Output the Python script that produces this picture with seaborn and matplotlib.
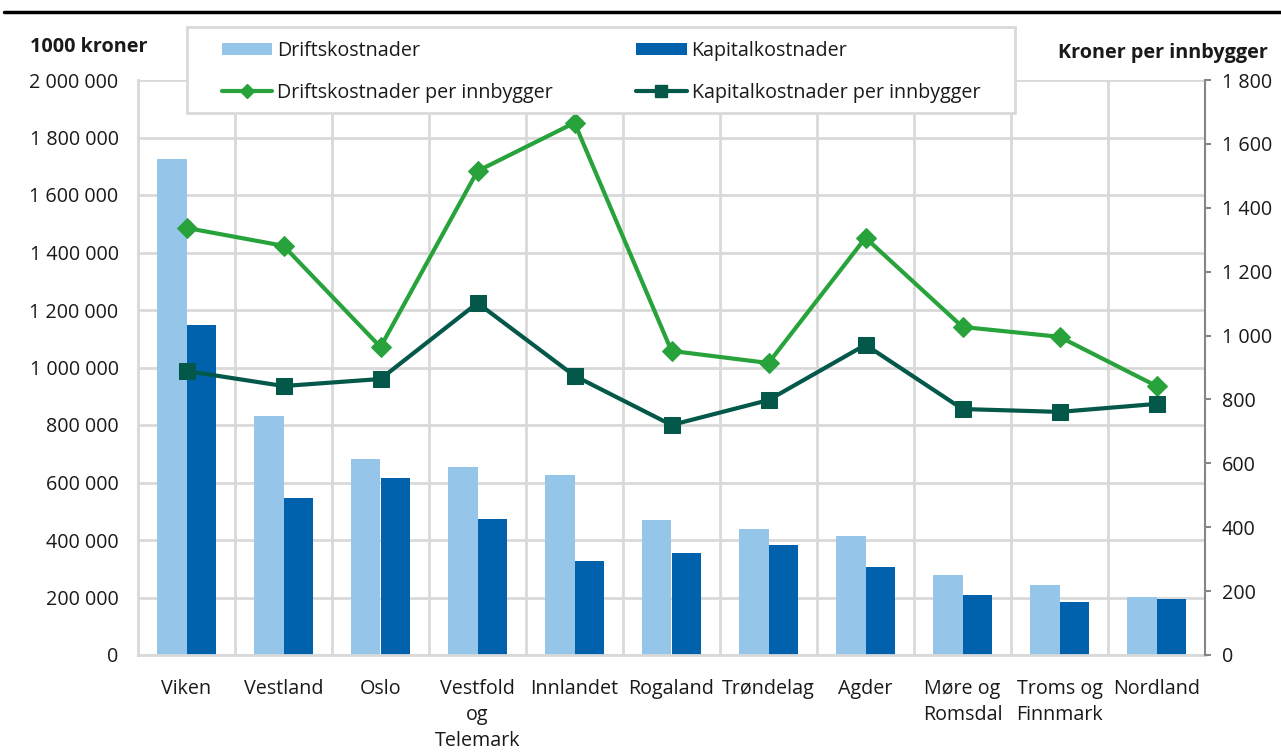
import numpy as np
import pandas as pd
import seaborn as sns
import matplotlib
matplotlib.use("Agg")
import matplotlib.pyplot as plt
from matplotlib.ticker import FuncFormatter, MultipleLocator, FixedLocator
from matplotlib.lines import Line2D
from matplotlib.patches import Patch, Rectangle

# --- data -------------------------------------------------------------
regions = ["Viken", "Vestland", "Oslo", "Vestfold\nog\nTelemark", "Innlandet",
           "Rogaland", "Trøndelag", "Agder", "Møre og\nRomsdal",
           "Troms og\nFinnmark", "Nordland"]
driftskostnader = [1725000, 831000, 682000, 654000, 626000, 470000,
                   438000, 414000, 277000, 242000, 202000]
kapitalkostnader = [1148000, 546000, 616000, 473000, 327000, 355000,
                    383000, 307000, 207000, 184000, 194000]
drift_per_innb = [1337, 1281, 964, 1515, 1666, 952, 914, 1306, 1027, 996, 842]
kapital_per_innb = [889, 842, 864, 1102, 874, 720, 798, 971, 770, 761, 786]

series_names = ["Driftskostnader", "Kapitalkostnader"]
line_names = ["Driftskostnader per innbygger", "Kapitalkostnader per innbygger"]

# --- styling ----------------------------------------------------------
LIGHT_BLUE = "#95c6ea"
DARK_BLUE = "#0062ad"
GREEN = "#28a33c"
DARK_GREEN = "#03584a"
GRID = "#d9d9d9"
TEXT = "#1a1a1a"
FS = 14.2

sns.set_theme(style="white")
plt.rcParams["font.family"] = ["Open Sans", "DejaVu Sans"]
plt.rcParams["font.size"] = FS
plt.rcParams["text.color"] = TEXT

W, H = 1281, 756

df = pd.DataFrame({
    "Region": regions * 2,
    "Verdi": driftskostnader + kapitalkostnader,
    "Serie": [series_names[0]] * len(regions) + [series_names[1]] * len(regions),
})

fig = plt.figure(figsize=(W / 100, H / 100), dpi=100)
ax = fig.add_axes([138 / W, 1 - 655 / H, (1205 - 138) / W, (655 - 80) / H])

sns.barplot(data=df, x="Region", y="Verdi", hue="Serie",
            palette=[LIGHT_BLUE, DARK_BLUE], width=0.6, saturation=1,
            gap=0, legend=False, linewidth=0, edgecolor="none", ax=ax, zorder=2)

n = len(regions)
ax.set_xlim(-0.5, n - 0.5)
ax.set_ylim(0, 2000000)
ax.yaxis.set_major_locator(MultipleLocator(200000))
ax.yaxis.set_major_formatter(FuncFormatter(lambda v, _: f"{int(v):,}".replace(",", " ")))
ax.set_xlabel("")
ax.set_ylabel("")

# category separators and horizontal grid
ax.xaxis.set_minor_locator(FixedLocator(np.arange(n + 1) - 0.5))
ax.grid(axis="y", which="major", color=GRID, lw=2)
ax.grid(axis="x", which="minor", color=GRID, lw=2)
ax.grid(axis="x", which="major", visible=False)
ax.set_axisbelow(True)
for s in ["top", "right"]:
    ax.spines[s].set_visible(False)
for s in ["left", "bottom"]:
    ax.spines[s].set_color(GRID)
    ax.spines[s].set_linewidth(2)
ax.tick_params(axis="y", which="both", length=0, pad=14, labelsize=FS, labelcolor=TEXT)
ax.tick_params(axis="x", which="both", length=0, pad=17, labelsize=FS, labelcolor=TEXT)
for lbl in ax.get_xticklabels():
    lbl.set_ha("center")
    lbl.set_linespacing(1.4)

# --- per-capita lines on the secondary axis --------------------------
ax2 = ax.twinx()
x_idx = np.arange(n)
sns.lineplot(x=x_idx, y=drift_per_innb, ax=ax2, color=GREEN, lw=3,
             marker="D", markersize=10, markeredgecolor=GREEN, zorder=4)
sns.lineplot(x=x_idx, y=kapital_per_innb, ax=ax2, color=DARK_GREEN, lw=3,
             marker="s", markersize=12, markeredgecolor=DARK_GREEN, zorder=4)
ax2.set_ylim(0, 1800)
ax2.yaxis.set_major_locator(MultipleLocator(200))
ax2.yaxis.set_major_formatter(FuncFormatter(lambda v, _: f"{int(v):,}".replace(",", " ")))
ax2.set_ylabel("")
ax2.grid(False)
for s in ["top", "left", "bottom"]:
    ax2.spines[s].set_visible(False)
ax2.spines["right"].set_color("#868686")
ax2.spines["right"].set_linewidth(1.5)
ax2.tick_params(axis="y", direction="out", length=4, width=1.5, color="#868686",
                pad=8, labelsize=FS, labelcolor=TEXT)

# --- legend -----------------------------------------------------------
fig.add_artist(Rectangle((187 / W, 1 - 113 / H), (1015 - 187) / W, (113 - 27) / H,
                         transform=fig.transFigure, facecolor="white",
                         edgecolor=GRID, lw=2, zorder=3))
handles = [
    Patch(facecolor=LIGHT_BLUE, edgecolor="none"),
    Line2D([], [], color=GREEN, lw=3, marker="D", markersize=7),
    Patch(facecolor=DARK_BLUE, edgecolor="none"),
    Line2D([], [], color=DARK_GREEN, lw=3, marker="s", markersize=9),
]
labels = [series_names[0], line_names[0], series_names[1], line_names[1]]
leg = fig.legend(handles, labels, ncol=2, loc="upper left",
                 bbox_to_anchor=(222 / W, 1 - 41 / H, (980 - 222) / W, 0),
                 mode="expand", frameon=False, handlelength=2.55, handleheight=0.62,
                 handletextpad=0.25, labelspacing=1.1, borderpad=0,
                 borderaxespad=0, fontsize=FS)
leg.set_zorder(4)

# --- axis titles and top rule ----------------------------------------
fig.text(30 / W, 1 - 47 / H, "1000 kroner", weight="bold", fontsize=14.3,
         ha="left", va="center")
fig.text(1268 / W, 1 - 53 / H, "Kroner per innbygger", weight="bold",
         fontsize=14.3, ha="right", va="center")
fig.add_artist(Line2D([4 / W, 1], [1 - 12 / H] * 2, color="black", lw=2.5,
                      transform=fig.transFigure))

fig.savefig("out.png", dpi=100)
